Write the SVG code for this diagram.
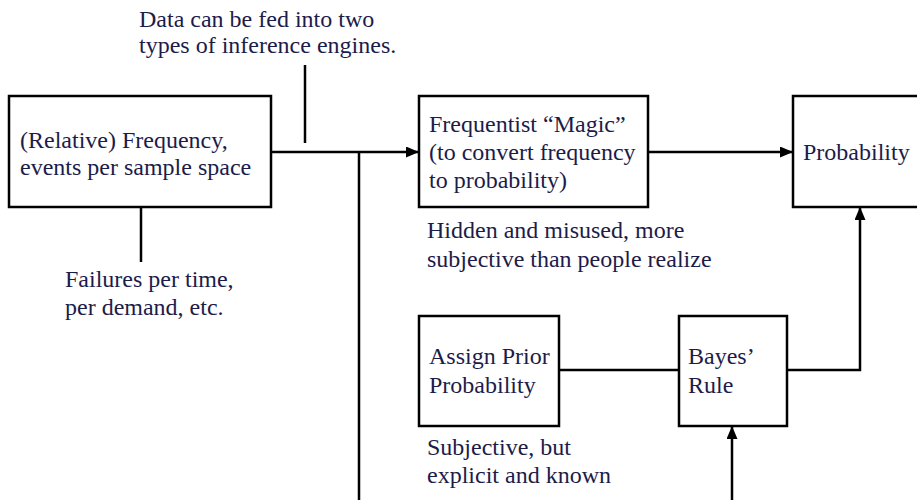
<svg xmlns="http://www.w3.org/2000/svg" width="917" height="500" viewBox="0 0 917 500">
  <style>
    .box { fill: #ffffff; stroke: #000000; stroke-width: 2.5; }
    .wire { fill: none; stroke: #000000; stroke-width: 2.5; }
    .lbl { font-family: 'Liberation Serif', 'DejaVu Serif', serif; font-size: 24px; fill: #1c1c4a; }
  </style>
  <defs>
    <marker id="arrow" viewBox="0 0 13 11" refX="13" refY="5.5" markerWidth="13" markerHeight="11" markerUnits="userSpaceOnUse" orient="auto">
      <path d="M0,0 L13,5.5 L0,11 Z" fill="#000000"/>
    </marker>
  </defs>
  <rect width="917" height="500" fill="#ffffff"/>

  <g id="connectors">
    <line class="wire" x1="271" y1="152" x2="419" y2="152" marker-end="url(#arrow)"/>
    <line class="wire" x1="305" y1="65" x2="305" y2="143"/>
    <line class="wire" x1="359" y1="152" x2="359" y2="500"/>
    <line class="wire" x1="141" y1="207" x2="141" y2="262"/>
    <line class="wire" x1="648" y1="152" x2="793" y2="152" marker-end="url(#arrow)"/>
    <line class="wire" x1="559" y1="370" x2="679" y2="370"/>
    <polyline class="wire" points="787,370 860,370 860,207" marker-end="url(#arrow)"/>
    <line class="wire" x1="732" y1="500" x2="732" y2="426" marker-end="url(#arrow)"/>
  </g>

  <g id="note-inference" class="lbl">
    <text x="139" y="27">Data can be fed into two</text>
    <text x="139" y="53">types of inference engines.</text>
  </g>

  <g id="frequency">
    <rect class="box" x="9" y="96" width="262" height="111"/>
    <g class="lbl">
      <text x="20" y="148">(Relative) Frequency,</text>
      <text x="20" y="175">events per sample space</text>
    </g>
  </g>

  <g id="note-failures" class="lbl">
    <text x="65" y="287">Failures per time,</text>
    <text x="65" y="315">per demand, etc.</text>
  </g>

  <g id="frequentist">
    <rect class="box" x="419" y="96" width="229" height="111"/>
    <g class="lbl">
      <text x="429" y="132">Frequentist “Magic”</text>
      <text x="429" y="160">(to convert frequency</text>
      <text x="429" y="188">to probability)</text>
    </g>
  </g>

  <g id="note-hidden" class="lbl">
    <text x="427" y="238">Hidden and misused, more</text>
    <text x="427" y="267">subjective than people realize</text>
  </g>

  <g id="probability">
    <rect class="box" x="793" y="96" width="130" height="111"/>
    <text class="lbl" x="803" y="160">Probability</text>
  </g>

  <g id="prior">
    <rect class="box" x="419" y="316" width="140" height="110"/>
    <g class="lbl">
      <text x="429" y="364">Assign Prior</text>
      <text x="429" y="393">Probability</text>
    </g>
  </g>

  <g id="bayes">
    <rect class="box" x="679" y="316" width="108" height="110"/>
    <g class="lbl">
      <text x="688" y="364">Bayes’</text>
      <text x="688" y="393">Rule</text>
    </g>
  </g>

  <g id="note-subjective" class="lbl">
    <text x="427" y="455">Subjective, but</text>
    <text x="427" y="483">explicit and known</text>
  </g>
</svg>
